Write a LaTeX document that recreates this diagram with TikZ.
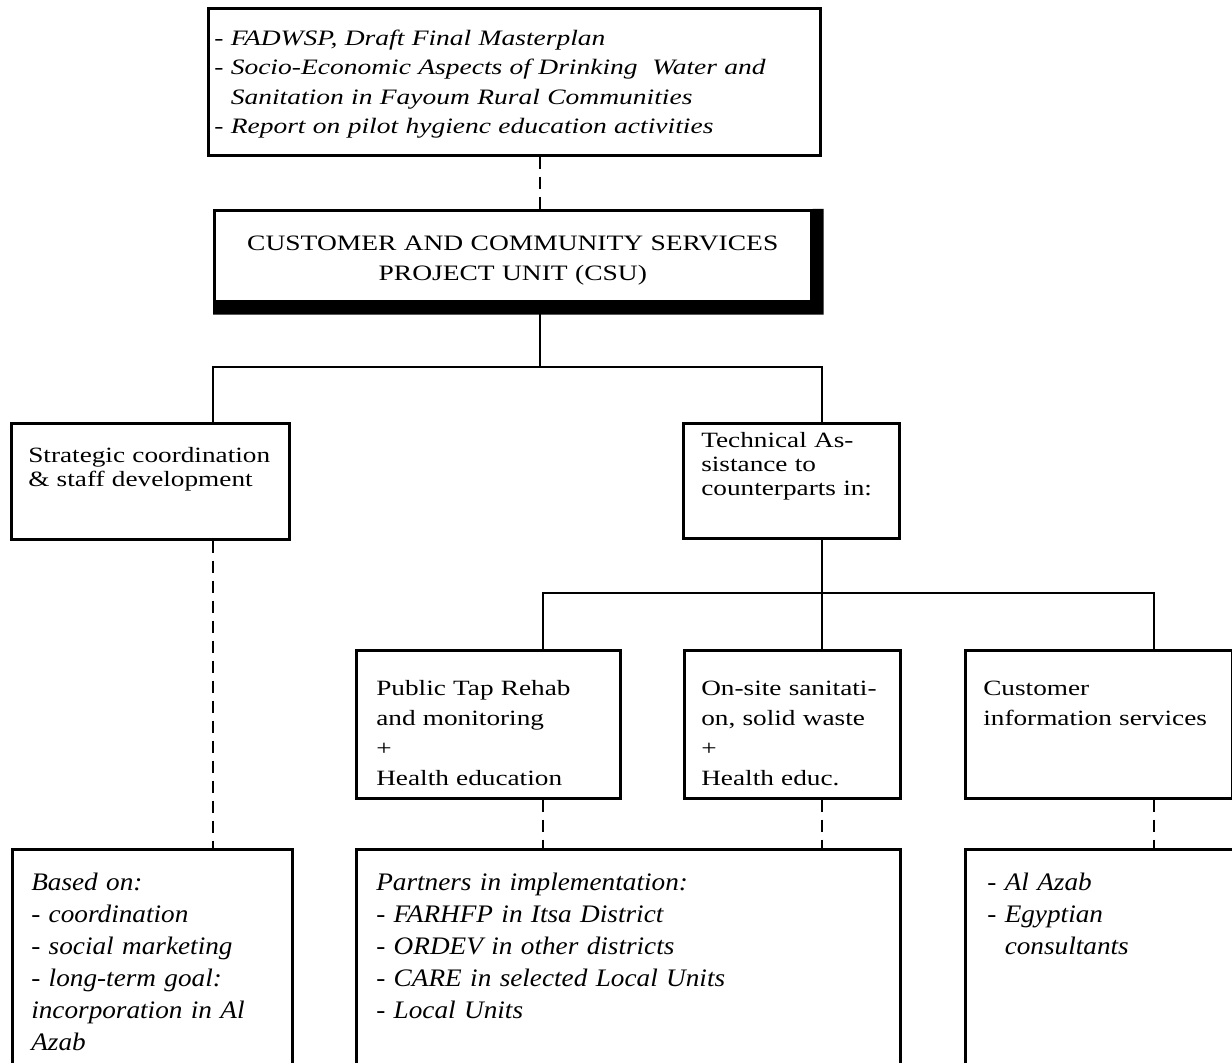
\documentclass[tikz,border=0pt]{standalone}
\usepackage{fontspec}
\setmainfont{Liberation Serif}
\newfontfamily\scanfont{Liberation Serif}[FakeStretch=1.25]
\newfontfamily\listfont{Liberation Serif}[FakeStretch=1.08]
\usetikzlibrary{calc}

\tikzset{
    box/.style={draw, line width=1.3pt, anchor=north west, align=left, inner ysep=0pt,
        execute at begin node={\rightskip=-30pt plus 1fil}},
    note/.style={box, font=\scanfont\itshape\fontsize{11}{14.75}\selectfont},
    plain/.style={box, font=\scanfont\fontsize{10.9}{12}\selectfont},
    rowtwo/.style={plain, font=\scanfont\fontsize{10.9}{15}\selectfont, text height=22.5pt, text depth=51.5pt},
    rowthree/.style={box, font=\listfont\itshape\fontsize{12.6}{16}\selectfont, text height=20.5pt, text depth=95.5pt},
    unit/.style={draw, line width=1.3pt, anchor=north west, align=center, inner sep=0pt,
        font=\scanfont\fontsize{11}{15}\selectfont},
    link/.style={line width=1.2pt},
    dlink/.style={line width=1.2pt, dash pattern=on 6pt off 4pt}
}

\begin{document}
\begin{tikzpicture}[x=0.5pt, y=-0.5pt]
    \useasboundingbox (0,0) rectangle (1232,1063);
    \clip (0,0) rectangle (1232,1063);

    % sources and project unit
    \node[note, text width=300pt, inner xsep=3pt, text height=18.5pt, text depth=55pt] (src) at (207,7)
        {- FADWSP, Draft Final Masterplan\\
         - Socio-Economic Aspects of Drinking\ \ Water and\\
         \hphantom{- }Sanitation in Fayoum Rural Communities\\
         - Report on pilot hygienc education activities};
    \node[unit, text width=298.5pt, text height=20pt, text depth=25.5pt] (csu) at (213,209)
        {CUSTOMER AND COMMUNITY SERVICES\\PROJECT UNIT (CSU)};
    \fill (csu.north east) -- ++(11,0) -- ([shift={(11,12)}]csu.south east)
        -- ([shift={(0,12)}]csu.south west) -- (csu.south west) -- (csu.south east) -- cycle;

    % first level
    \node[plain, text width=122pt, inner xsep=8.5pt, text height=19.5pt, text depth=38.5pt] (strat) at (10,422)
        {Strategic coordination\\\& staff development};
    \node[plain, text width=90pt, inner xsep=9pt, text height=12pt, text depth=45.5pt] (tech) at (682,422)
        {Technical As-\\sistance to\\counterparts in:};

    % second level
    \node[rowtwo, text width=112pt, inner xsep=10pt] (tap) at (355,649)
        {Public Tap Rehab\\and monitoring\\+\\Health education};
    \node[rowtwo, text width=91pt, inner xsep=8.5pt] (onsite) at (683,649)
        {On-site sanitati-\\on, solid waste\\+\\Health educ.};
    \node[rowtwo, text width=115.5pt, inner xsep=9pt] (cust) at (964,649)
        {Customer\\information services};

    % partners
    \node[rowthree, text width=121pt, inner xsep=9.5pt] (based) at (11,848)
        {Based on:\\- coordination\\- social marketing\\- long-term goal:\\incorporation in Al\\Azab};
    \node[rowthree, text width=252pt, inner xsep=10pt] (partners) at (355,848)
        {Partners in implementation:\\- FARHFP in Itsa District\\- ORDEV in other districts\\- CARE in selected Local Units\\- Local Units};
    \node[rowthree, text width=112pt, inner xsep=11pt] (consult) at (964,848)
        {- Al Azab\\- Egyptian\\\hphantom{- }consultants};

    % connectors
    \coordinate (hub) at (540,367);
    \coordinate (stratdrop) at (213,367);
    \coordinate (techdrop) at (822,367);
    \coordinate (tapdrop) at (543,593);
    \coordinate (custdrop) at (1154,593);

    \draw[dlink] (src.south -| hub) -- (csu.north -| hub);
    \draw[link] (csu.south -| hub) -- (hub);
    \draw[link] (strat.north -| stratdrop) -- (stratdrop) -- (techdrop) -- (tech.north -| techdrop);
    \draw[link] (tech.south -| techdrop) -- (onsite.north -| techdrop);
    \draw[link] (tap.north -| tapdrop) -- (tapdrop) -- (custdrop) -- (cust.north -| custdrop);

    \draw[dlink] (strat.south -| stratdrop) -- (based.north -| stratdrop);
    \draw[dlink] (tap.south -| tapdrop) -- (partners.north -| tapdrop);
    \draw[dlink] (onsite.south -| techdrop) -- (partners.north -| techdrop);
    \draw[dlink] (cust.south -| custdrop) -- (consult.north -| custdrop);
\end{tikzpicture}
\end{document}
